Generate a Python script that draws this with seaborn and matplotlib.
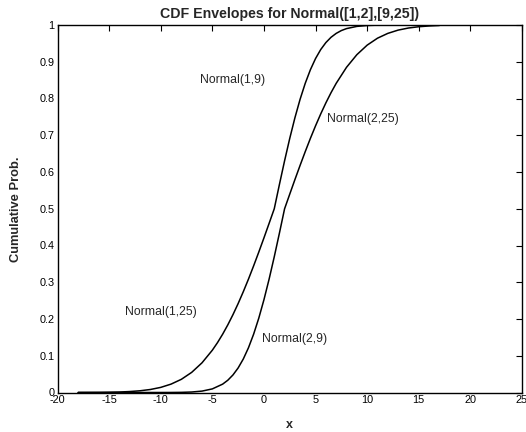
import matplotlib
matplotlib.use("Agg")
import matplotlib.pyplot as plt
import seaborn as sns
import pandas as pd

# Values
x_left = [-18, -17, -16, -15, -14, -13, -12, -11, -10, -9, -8, -7, -6, -5, -4.5, -4, -3.5, -3,
          -2.5, -2, -1.5, -1, -0.5, 0, 0.5, 1, 1.5, 2, 2.5, 3, 3.5, 4, 4.5, 5, 5.5, 6, 6.5, 7,
          7.5, 8, 9, 10, 11, 12, 13, 14, 15, 16, 17]
y_left = [0.0001, 0.0002, 0.0003, 0.0007, 0.0013, 0.0026, 0.0047, 0.0082, 0.0139, 0.0228,
          0.0359, 0.0548, 0.0808, 0.1151, 0.1357, 0.1587, 0.1841, 0.2119, 0.2420, 0.2743,
          0.3085, 0.3446, 0.3821, 0.4207, 0.4602, 0.5, 0.5662, 0.6306, 0.6915, 0.7475,
          0.7977, 0.8413, 0.8783, 0.9088, 0.9332, 0.9522, 0.9666, 0.9772, 0.9849, 0.9902,
          0.9962, 0.9987, 0.9996, 0.9999, 1.0, 1.0, 1.0, 1.0, 1.0]
x_right = [-18, -17, -16, -15, -14, -13, -12, -11, -10, -9, -8, -7, -6, -5, -4, -3.5, -3,
           -2.5, -2, -1.5, -1, -0.5, 0, 0.5, 1, 1.5, 2, 2.5, 3, 3.5, 4, 4.5, 5, 5.5, 6, 6.5,
           7, 8, 9, 10, 11, 12, 13, 14, 15, 16, 17]
y_right = [0.0, 0.0, 0.0, 0.0, 0.0, 0.0, 0.0, 0.0, 0.00003, 0.0001, 0.0004, 0.0013, 0.0038,
           0.0098, 0.0228, 0.0334, 0.0478, 0.0668, 0.0912, 0.1217, 0.1587, 0.2023, 0.2525,
           0.3085, 0.3694, 0.4338, 0.5, 0.5398, 0.5793, 0.6179, 0.6554, 0.6915, 0.7257,
           0.7580, 0.7881, 0.8159, 0.8413, 0.8849, 0.9192, 0.9452, 0.9641, 0.9772, 0.9861,
           0.9918, 0.9953, 0.9974, 0.9987]
labels = ["Normal(1,9)", "Normal(2,25)", "Normal(1,25)", "Normal(2,9)"]
label_x = [-6.2, 6.1, -13.5, -0.2]
label_y = [0.85, 0.745, 0.22, 0.145]
x_ticks = [-20, -15, -10, -5, 0, 5, 10, 15, 20, 25]
y_ticks = [0, 0.1, 0.2, 0.3, 0.4, 0.5, 0.6, 0.7, 0.8, 0.9, 1]
y_tick_labels = ["0", "0.1", "0.2", "0.3", "0.4", "0.5", "0.6", "0.7", "0.8", "0.9", "1"]

sns.set_style("white")
plt.rcParams['font.family'] = ['Liberation Sans', 'DejaVu Sans']

df = pd.concat([
    pd.DataFrame({"x": x_left, "y": y_left, "curve": "left"}),
    pd.DataFrame({"x": x_right, "y": y_right, "curve": "right"}),
])

fig = plt.figure(figsize=(5.26, 4.32), dpi=100)
ax = fig.add_axes([57.5 / 526, 1 - 392.5 / 432, (522 - 57.5) / 526, (392.5 - 25) / 432])
sns.lineplot(data=df, x="x", y="y", units="curve", estimator=None, color="black",
             linewidth=1.1, ax=ax, legend=False)

for t, lx, ly in zip(labels, label_x, label_y):
    ax.text(lx, ly, t, fontsize=8.8, ha="left", va="center")

ax.set_xlim(-20, 25)
ax.set_ylim(0, 1)
ax.set_xticks(x_ticks)
ax.set_xticklabels([str(v) for v in x_ticks])
ax.set_yticks(y_ticks)
ax.set_yticklabels(y_tick_labels)
ax.tick_params(direction="in", length=4, width=0.8, labelsize=7.8, top=True, right=True,
               pad=2, colors="black")
for s in ax.spines.values():
    s.set_visible(True)
    s.set_color("black")
    s.set_linewidth(1.0)
ax.set_xlabel("x", fontsize=9, fontweight="bold", labelpad=10)
ax.set_ylabel("Cumulative Prob.", fontsize=9.3, fontweight="bold", labelpad=13)
ax.set_title("CDF Envelopes for Normal([1,2],[9,25])", fontsize=10.2, fontweight="bold", pad=5)

fig.savefig("out.png", dpi=100, facecolor="white")
